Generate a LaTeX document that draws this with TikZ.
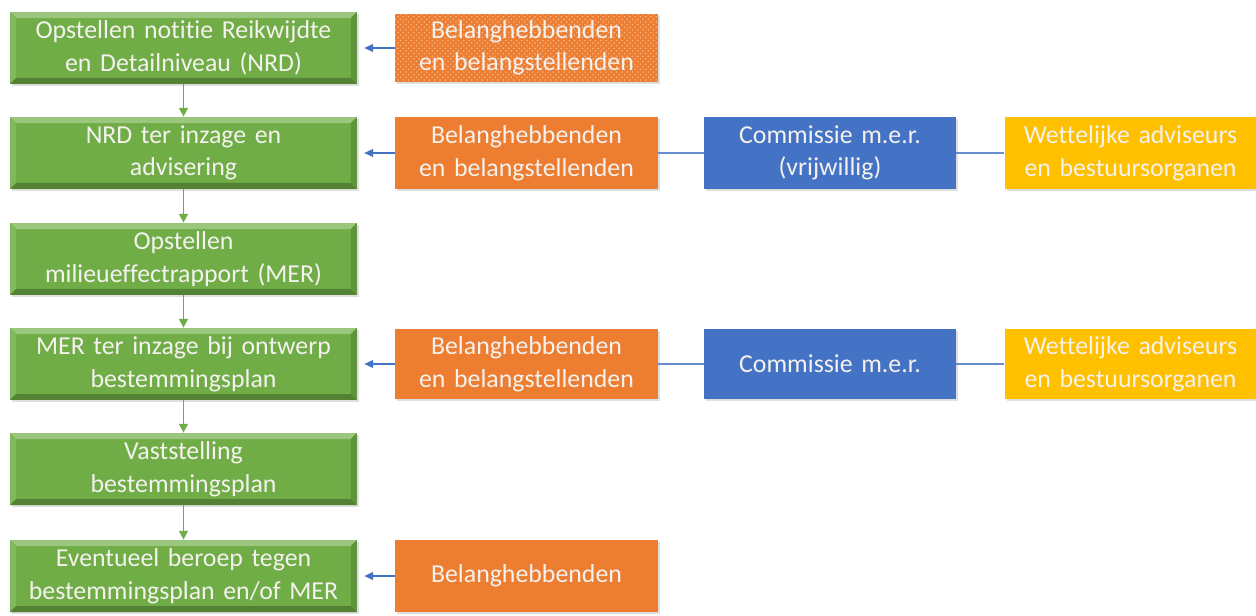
\documentclass[tikz,border=0pt]{standalone}
\usepackage{fontspec}
\setmainfont{Carlito}[Ligatures=NoCommon]
\usetikzlibrary{arrows.meta,shadows,patterns}

\definecolor{phasegreen}{HTML}{70AD47}
\definecolor{partyorange}{HTML}{ED7D31}
\definecolor{cmerblue}{HTML}{4472C4}
\definecolor{advisoryellow}{HTML}{FFC000}
\definecolor{boxtext}{HTML}{F4F2EE}

\tikzset{
	boxbase/.style={anchor=center, minimum height=1.44cm, align=center, text=boxtext,
		font=\fontsize{14.7}{18.5}\selectfont,
		drop shadow={opacity=0.25, shadow xshift=1.2pt, shadow yshift=-1.2pt}},
	phase/.style={boxbase, fill=phasegreen, minimum width=6.94cm, text width=6.7cm,
		path picture={
			\fill[phasegreen!70!white] (path picture bounding box.north west) -- (path picture bounding box.north east)
				-- ([xshift=-0.12cm,yshift=-0.12cm]path picture bounding box.north east) -- ([xshift=0.12cm,yshift=-0.12cm]path picture bounding box.north west) -- cycle;
			\fill[phasegreen!88!white] (path picture bounding box.north west) -- ([xshift=0.12cm,yshift=-0.12cm]path picture bounding box.north west)
				-- ([xshift=0.12cm,yshift=0.12cm]path picture bounding box.south west) -- (path picture bounding box.south west) -- cycle;
			\fill[phasegreen!85!black] (path picture bounding box.north east) -- ([xshift=-0.12cm,yshift=-0.12cm]path picture bounding box.north east)
				-- ([xshift=-0.12cm,yshift=0.12cm]path picture bounding box.south east) -- (path picture bounding box.south east) -- cycle;
			\fill[phasegreen!75!black] (path picture bounding box.south west) -- (path picture bounding box.south east)
				-- ([xshift=-0.12cm,yshift=0.12cm]path picture bounding box.south east) -- ([xshift=0.12cm,yshift=0.12cm]path picture bounding box.south west) -- cycle;
		}},
	party/.style={boxbase, fill=partyorange, minimum width=5.26cm, text width=5cm},
	commission/.style={boxbase, fill=cmerblue, minimum width=5cm, text width=4.8cm},
	advisor/.style={boxbase, fill=advisoryellow, minimum width=5.02cm, text width=4.8cm},
	flowarrow/.style={draw=phasegreen, line width=0.9pt, -{Triangle[length=5pt,width=5pt]}},
	inputarrow/.style={draw=cmerblue, line width=0.6pt, -{Triangle[length=5pt,width=4.5pt]}},
	link/.style={draw=cmerblue!80!white, line width=0.6pt}
}

\begin{document}
\begin{tikzpicture}[x=0.02cm,y=-0.02cm]
	\useasboundingbox (0,0) rectangle (1256,615);
	\fill[white] (0,0) rectangle (1256,615);

	% main procedure, top to bottom
	\node[phase] (nrd) at (183.5,48) {Opstellen notitie Reikwijdte\\en Detailniveau (NRD)};
	\node[phase] (nrdinzage) at (183.5,153) {NRD ter inzage en\\advisering};
	\node[phase] (mer) at (183.5,259) {Opstellen\\milieueffectrapport (MER)};
	\node[phase] (merinzage) at (183.5,364) {MER ter inzage bij ontwerp\\bestemmingsplan};
	\node[phase] (vaststelling) at (183.5,469) {Vaststelling\\bestemmingsplan};
	\node[phase] (beroep) at (183.5,576) {Eventueel beroep tegen\\bestemmingsplan en/of MER};

	\draw[flowarrow] (nrd) -- (nrdinzage);
	\draw[flowarrow] (nrdinzage) -- (mer);
	\draw[flowarrow] (mer) -- (merinzage);
	\draw[flowarrow] (merinzage) -- (vaststelling);
	\draw[flowarrow] (vaststelling) -- (beroep);

	% participants
	\node[party, minimum height=1.36cm, postaction={pattern=crosshatch dots, pattern color=partyorange!55!white}] (party1) at (526.5,48) {Belanghebbenden\\en belangstellenden};
	\node[party] (party2) at (526.5,153) {Belanghebbenden\\en belangstellenden};
	\node[party, minimum height=1.4cm] (party4) at (526.5,364) {Belanghebbenden\\en belangstellenden};
	\node[party] (party6) at (526.5,576) {Belanghebbenden};

	\node[commission] (cmer2) at (830,153) {Commissie m.e.r.\\(vrijwillig)};
	\node[commission, minimum height=1.4cm] (cmer4) at (830,364) {Commissie m.e.r.};

	\node[advisor] (advisor2) at (1130.5,153) {Wettelijke adviseurs\\en bestuursorganen};
	\node[advisor, minimum height=1.4cm] (advisor4) at (1130.5,364) {Wettelijke adviseurs\\en bestuursorganen};

	\draw[inputarrow] (party1) -- ([xshift=4pt]nrd.east);
	\draw[inputarrow] (party2) -- ([xshift=4pt]nrdinzage.east);
	\draw[inputarrow] (party4) -- ([xshift=4pt]merinzage.east);
	\draw[inputarrow] (party6) -- ([xshift=4pt]beroep.east);

	\draw[link] (cmer2) -- (party2);
	\draw[link] (advisor2) -- (cmer2);
	\draw[link] (cmer4) -- (party4);
	\draw[link] (advisor4) -- (cmer4);
\end{tikzpicture}
\end{document}
